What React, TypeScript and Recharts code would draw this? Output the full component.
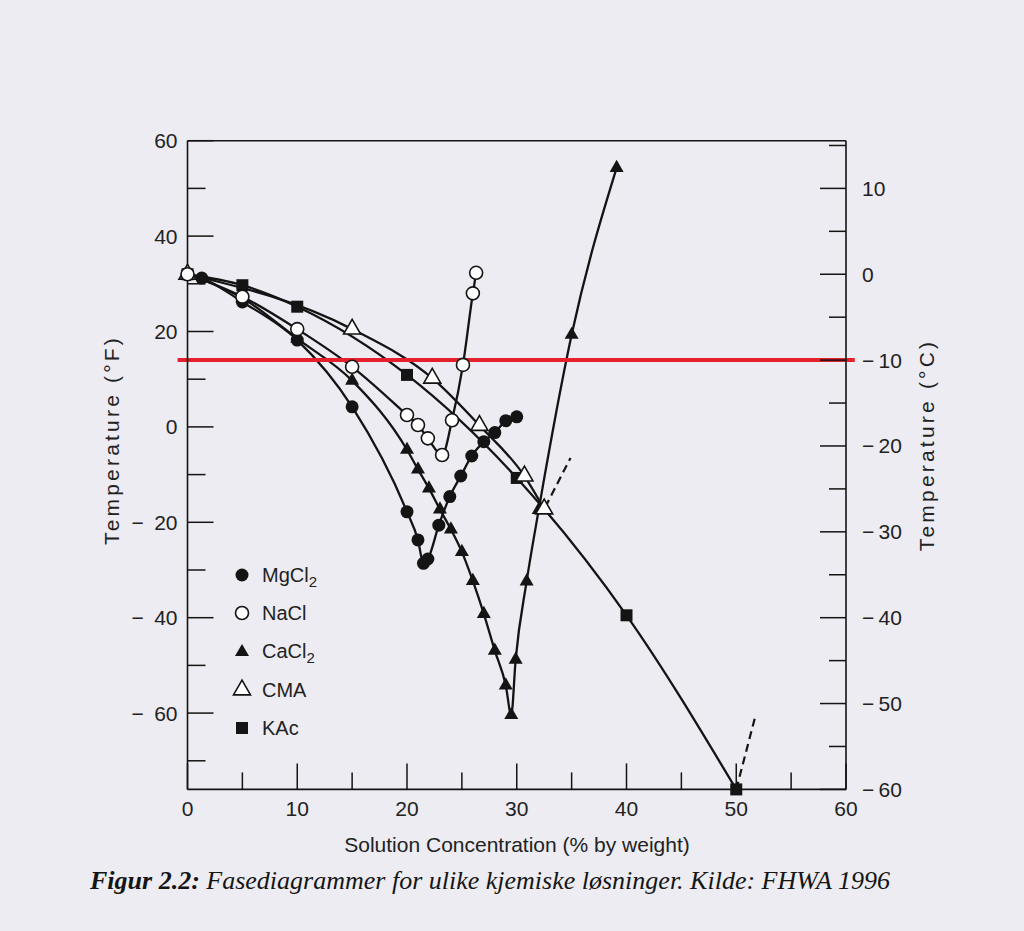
import React from 'react';
import { LineChart, Line, XAxis, YAxis, ReferenceLine, Legend } from 'recharts';

// concentration (% by weight) and freezing point (°F)
const mgcl2Conc = [0, 1.3, 5, 10, 15, 20, 21, 21.5, 21.9, 22.9, 23.9, 24.9, 25.9, 27, 28, 29, 30];
const mgcl2Temp = [32, 31.2, 26.2, 18.2, 4.2, -17.8, -23.7, -28.6, -27.7, -20.6, -14.6, -10.3, -6.1, -3.1, -1.2, 1.3, 2.1];

const naclConc = [0, 5, 10, 15, 20, 21, 21.9, 23.2, 24.1, 25.1, 26, 26.3];
const naclTemp = [32, 27.3, 20.5, 12.6, 2.5, 0.4, -2.4, -5.9, 1.4, 13, 28, 32.3];

const cacl2Conc = [0, 5, 10, 15, 20, 21, 22, 23, 24, 25, 26, 27, 28, 29, 29.5, 29.9, 30.9, 32, 35, 39.1];
const cacl2Temp = [32, 27, 18.5, 9.7, -4.8, -8.9, -12.9, -17.3, -21.5, -26.2, -32.3, -39.2, -46.9, -54.2, -60.4, -48.8, -32.4, -17.4, 19.3, 54.3];

const cmaConc = [0, 15, 22.3, 26.6, 30.7, 32.5];
const cmaTemp = [32, 20.5, 10.2, 0.3, -10.3, -17.2];

const kacConc = [0, 5, 10, 20, 30, 40, 50];
const kacTemp = [32, 29.7, 25.2, 10.9, -10.7, -39.5, -76];

// dashed extensions past the eutectic points
const dashCmaConc = [32.6, 34.9];
const dashCmaTemp = [-16.8, -6.5];
const dashKacConc = [50, 51.7];
const dashKacTemp = [-76, -61];

const redLineTempF = 14; // -10 °C

const xTicks = [0, 5, 10, 15, 20, 25, 30, 35, 40, 45, 50, 55, 60];
const fTicks = [-70, -60, -50, -40, -30, -20, -10, 0, 10, 20, 30, 40, 50, 60];
const cTicks = [-60, -55, -50, -45, -40, -35, -30, -25, -20, -15, -10, -5, 0, 5, 10, 15];

const toPoints = (conc: number[], temp: number[]) => conc.map((c, i) => ({ conc: c, temp: temp[i] }));

const mgcl2 = toPoints(mgcl2Conc, mgcl2Temp);
const nacl = toPoints(naclConc, naclTemp);
const cacl2 = toPoints(cacl2Conc, cacl2Temp);
const cma = toPoints(cmaConc, cmaTemp);
const kac = toPoints(kacConc, kacTemp);
const dashCma = toPoints(dashCmaConc, dashCmaTemp);
const dashKac = toPoints(dashKacConc, dashKacTemp);

const INK = '#141414';
const FONT = 'Arial, "Liberation Sans", Helvetica, sans-serif';
const tickText = { fontFamily: FONT, fontSize: 21, fill: '#222' };

type Kind = 'dot' | 'ring' | 'tri' | 'openTri' | 'square';

const MARKER: Record<string, Kind> = {
  MgCl2: 'dot',
  NaCl: 'ring',
  CaCl2: 'tri',
  CMA: 'openTri',
  KAc: 'square',
};
const LEGEND_ORDER = ['MgCl2', 'NaCl', 'CaCl2', 'CMA', 'KAc'];

function Marker({ kind, cx, cy }: { kind: Kind; cx: number; cy: number }) {
  if (kind === 'dot') return <circle cx={cx} cy={cy} r={6.5} fill={INK} />;
  if (kind === 'ring') return <circle cx={cx} cy={cy} r={6.5} fill="#fff" stroke={INK} strokeWidth={1.6} />;
  if (kind === 'square') return <rect x={cx - 6} y={cy - 6} width={12} height={12} fill={INK} />;
  const s = kind === 'tri' ? 14 : 17;
  const h = s * 0.866;
  const pts = `${cx},${cy - (2 * h) / 3} ${cx - s / 2},${cy + h / 3} ${cx + s / 2},${cy + h / 3}`;
  return kind === 'tri' ? (
    <polygon points={pts} fill={INK} />
  ) : (
    <polygon points={pts} fill="#fff" stroke={INK} strokeWidth={1.6} strokeLinejoin="miter" />
  );
}

const dotFor = (name: string) => (p: any) => (
  <Marker key={`${name}-${p.index}`} kind={MARKER[name]} cx={p.cx} cy={p.cy} />
);

function BottomTick({ x, y, payload }: any) {
  const v = payload.value;
  const major = v % 10 === 0;
  return (
    <g>
      <line x1={x} y1={y} x2={x} y2={y - (major ? 26 : 17)} stroke={INK} strokeWidth={1.5} />
      {major && (
        <text x={x} y={y + 19} textAnchor="middle" dominantBaseline="central" {...tickText}>
          {v}
        </text>
      )}
    </g>
  );
}

function TopTick({ x, y }: any) {
  return <line x1={x} y1={y} x2={x} y2={y + 17} stroke={INK} strokeWidth={1.5} />;
}

const fmtMinus = (v: number, gap: string) => (v < 0 ? `\u2212${gap}${Math.abs(v)}` : `${v}`);

function LeftTick({ x, y, payload }: any) {
  const v = payload.value;
  const major = v % 20 === 0;
  return (
    <g>
      <line x1={x} y1={y} x2={x + (major ? 26 : 18)} y2={y} stroke={INK} strokeWidth={1.5} />
      {major && (
        <text x={x - 10} y={y} textAnchor="end" dominantBaseline="central" {...tickText}>
          {fmtMinus(v, '\u2002')}
        </text>
      )}
    </g>
  );
}

function RightTick({ x, y, payload }: any) {
  const v = payload.value;
  const major = v % 10 === 0;
  return (
    <g>
      <line x1={x} y1={y} x2={x - (major ? 26 : 17)} y2={y} stroke={INK} strokeWidth={1.5} />
      {major && (
        <text x={x + 16} y={y} textAnchor="start" dominantBaseline="central" {...tickText}>
          {fmtMinus(v, '\u2009')}
        </text>
      )}
    </g>
  );
}

function Chem({ name }: { name: string }) {
  const m = name.match(/^(.*?)(\d+)$/);
  if (!m) return <>{name}</>;
  return (
    <>
      {m[1]}
      <sub style={{ fontSize: 15, verticalAlign: 'sub', lineHeight: 0 }}>{m[2]}</sub>
    </>
  );
}

function LegendBox({ payload }: any) {
  const items = (payload || [])
    .filter((e: any) => MARKER[e.value])
    .sort((a: any, b: any) => LEGEND_ORDER.indexOf(a.value) - LEGEND_ORDER.indexOf(b.value));
  return (
    <div>
      {items.map((e: any) => (
        <div key={e.value} style={{ display: 'flex', alignItems: 'center', height: 38.3 }}>
          <svg width={20} height={20} style={{ overflow: 'visible' }}>
            <Marker kind={MARKER[e.value]} cx={10} cy={10} />
          </svg>
          <span style={{ marginLeft: 10, fontFamily: FONT, fontSize: 20, color: '#222' }}>
            <Chem name={e.value} />
          </span>
        </div>
      ))}
    </div>
  );
}

const seriesLine = (name: string, data: any[]) => (
  <Line
    key={name}
    xAxisId="bottom"
    yAxisId="left"
    data={data}
    dataKey="temp"
    name={name}
    type="monotone"
    stroke={INK}
    strokeWidth={2.3}
    dot={dotFor(name)}
    activeDot={false}
    isAnimationActive={false}
  />
);

const titleStyle: React.CSSProperties = {
  position: 'absolute',
  fontFamily: FONT,
  fontSize: 21,
  color: '#222',
  whiteSpace: 'nowrap',
};

export default function App() {
  return (
    <div style={{ position: 'fixed', left: 0, top: 0, width: 1024, height: 931, background: '#ececf2' }}>
      <LineChart
        width={1024}
        height={931}
        margin={{ top: 120.7, right: 118, bottom: 101.6, left: 127.5 }}
        style={{ position: 'absolute', left: 0, top: 0 }}
      >
        <XAxis
          xAxisId="bottom"
          type="number"
          dataKey="conc"
          domain={[0, 60]}
          ticks={xTicks}
          interval={0}
          height={40}
          tickSize={0}
          tickMargin={0}
          tickLine={false}
          tick={BottomTick}
          axisLine={{ stroke: INK, strokeWidth: 1.6 }}
        />
        <XAxis
          xAxisId="top"
          orientation="top"
          type="number"
          domain={[0, 60]}
          allowDataOverflow
          ticks={xTicks}
          interval={0}
          height={20}
          tickSize={0}
          tickMargin={0}
          tickLine={false}
          tick={TopTick}
          axisLine={{ stroke: INK, strokeWidth: 1.6 }}
        />
        <YAxis
          yAxisId="left"
          type="number"
          domain={[-76, 60]}
          ticks={fTicks}
          interval={0}
          width={60}
          tickSize={0}
          tickMargin={0}
          tickLine={false}
          tick={LeftTick}
          axisLine={{ stroke: INK, strokeWidth: 1.6 }}
        />
        <YAxis
          yAxisId="right"
          orientation="right"
          type="number"
          domain={[-60, 15.556]}
          allowDataOverflow
          ticks={cTicks}
          interval={0}
          width={60}
          tickSize={0}
          tickMargin={0}
          tickLine={false}
          tick={RightTick}
          axisLine={{ stroke: INK, strokeWidth: 1.6 }}
        />
        <Legend
          layout="horizontal"
          verticalAlign="middle"
          align="center"
          content={LegendBox}
          wrapperStyle={{ position: 'absolute', left: 232, top: 556, width: 160, height: 195 }}
        />
        {seriesLine('CaCl2', cacl2)}
        {seriesLine('MgCl2', mgcl2)}
        {seriesLine('KAc', kac)}
        {seriesLine('CMA', cma)}
        {seriesLine('NaCl', nacl)}
        {[dashCma, dashKac].map((d, i) => (
          <Line
            key={`dash-${i}`}
            xAxisId="bottom"
            yAxisId="left"
            data={d}
            dataKey="temp"
            legendType="none"
            type="linear"
            stroke={INK}
            strokeWidth={2.2}
            strokeDasharray="8 5"
            dot={false}
            activeDot={false}
            isAnimationActive={false}
          />
        ))}
        <ReferenceLine
          xAxisId="bottom"
          yAxisId="left"
          segment={[
            { x: -0.9, y: redLineTempF },
            { x: 60.8, y: redLineTempF },
          ]}
          ifOverflow="visible"
          stroke="#e3202b"
          strokeWidth={4}
        />
      </LineChart>

      <div style={{ ...titleStyle, left: 112, top: 440, transform: 'translate(-50%, -50%) rotate(-90deg)', letterSpacing: 3.2 }}>
        Temperature (°F)
      </div>
      <div style={{ ...titleStyle, left: 927, top: 445, transform: 'translate(-50%, -50%) rotate(-90deg)', letterSpacing: 3.2 }}>
        Temperature (°C)
      </div>
      <div style={{ ...titleStyle, left: 517, top: 845, transform: 'translate(-50%, -50%)' }}>
        Solution Concentration (% by weight)
      </div>
      <div
        style={{
          position: 'absolute',
          left: 90,
          top: 866,
          fontFamily: '"Liberation Serif", "Times New Roman", serif',
          fontStyle: 'italic',
          fontSize: 26,
          color: '#151515',
          whiteSpace: 'nowrap',
        }}
      >
        <b>Figur 2.2:</b> Fasediagrammer for ulike kjemiske løsninger. Kilde: FHWA 1996
      </div>
    </div>
  );
}
